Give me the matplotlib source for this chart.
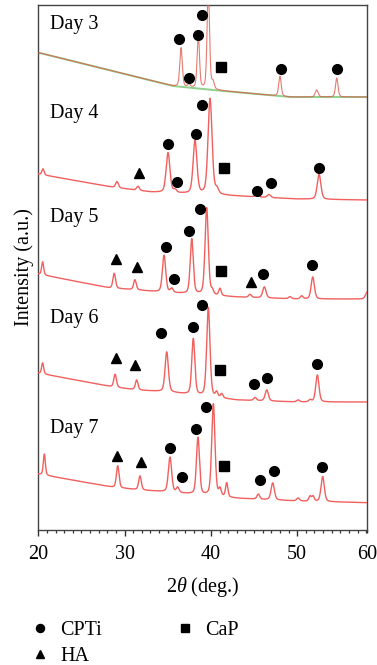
import numpy as np
import matplotlib
matplotlib.use("Agg")
import matplotlib.pyplot as plt
from matplotlib.ticker import MultipleLocator
from matplotlib.lines import Line2D

plt.rcParams['font.family'] = ['Liberation Serif', 'DejaVu Serif']
plt.rcParams['mathtext.fontset'] = 'custom'
plt.rcParams['mathtext.it'] = 'Liberation Serif:italic'
plt.rcParams['mathtext.rm'] = 'Liberation Serif'

# ---------------- XRD patterns (2theta in degrees, intensity in a.u., stacked) ----------------
days = ["Day 3", "Day 4", "Day 5", "Day 6", "Day 7"]

# background anchors per day
bg_tt = {
    "Day 3": [20.0, 20.2, 35.6, 40.2, 49.1, 58.1],
    "Day 4": [20.0, 28.5, 33.0, 38.0, 43.0, 50.0, 58.1],
    "Day 5": [20.0, 28.3, 31.5, 34.0, 43.0, 50.0, 58.1],
    "Day 6": [20.0, 28.66, 31.4, 35.0, 43.0, 50.0, 58.1],
    "Day 7": [20.0, 28.66, 31.8, 35.0, 43.0, 50.0, 58.1],
}
bg_int = {
    "Day 3": [477, 477, 444, 440, 433, 433],
    "Day 4": [356, 343, 338, 336, 334, 331, 330],
    "Day 5": [256, 242, 240, 238, 233, 231, 231],
    "Day 6": [157, 143, 140, 138, 130, 128, 128],
    "Day 7": [56, 42.7, 40, 38, 31.7, 29, 27.3],
}

# reflections: position, height above background, FWHM
pk_pos = {
    "Day 3": [36.54, 37.46, 38.54, 39.70, 40.24, 48.0, 52.26, 54.58],
    "Day 4": [20.54, 29.12, 31.55, 35.03, 35.84, 38.16, 39.90, 40.70, 45.31, 46.73, 52.53],
    "Day 5": [20.5, 28.8, 31.2, 34.57, 35.46, 37.78, 39.51, 40.16, 41.05, 44.53, 46.19,
              49.17, 50.52, 51.8, 58.1],
    "Day 6": [20.5, 28.9, 31.4, 34.88, 37.96, 39.70, 40.67, 41.25, 45.11, 46.47, 50.1,
              51.5, 52.33],
    "Day 7": [20.7, 29.2, 31.78, 35.26, 36.15, 38.5, 40.28, 41.05, 41.83, 45.49, 47.16,
              50.1, 51.48, 51.83, 52.95],
}
pk_height = {
    "Day 3": [39, 3, 54, 100, 7, 20, 7, 19],
    "Day 4": [6, 6, 4, 40, 3, 53, 96, 5, 2, 3, 25],
    "Day 5": [13, 15, 10, 37, 4, 55, 87, 4, 7, 3, 11, 2, 3, 22, 7],
    "Day 6": [11, 13, 10, 40, 56, 89, 5, 4, 3, 11, 2, 2, 27],
    "Day 7": [21, 22, 14, 35, 5, 57, 92, 7, 14, 5, 17, 3, 5, 5, 25],
}
pk_fwhm = {
    "Day 3": [0.34, 0.34, 0.32, 0.34, 0.34, 0.34, 0.40, 0.34],
    "Day 4": [0.30, 0.38, 0.38, 0.52, 0.38, 0.52, 0.55, 0.45, 0.45, 0.45, 0.50],
    "Day 5": [0.28, 0.36, 0.36, 0.45, 0.38, 0.42, 0.45, 0.32, 0.32, 0.38, 0.45,
              0.38, 0.38, 0.45, 0.45],
    "Day 6": [0.28, 0.36, 0.36, 0.45, 0.42, 0.45, 0.32, 0.32, 0.38, 0.45, 0.38,
              0.38, 0.45],
    "Day 7": [0.28, 0.36, 0.36, 0.45, 0.38, 0.42, 0.45, 0.32, 0.32, 0.38, 0.45,
              0.38, 0.32, 0.32, 0.45],
}

# phase markers: (2theta, height) per day
cpti_pts = {
    "Day 3": ([36.34, 37.46, 38.50, 38.97, 48.09, 54.65], [490.7, 452.3, 495, 515, 461, 461]),
    "Day 4": ([38.97, 38.24, 35.06, 36.10, 45.31, 46.96, 52.56], [424.7, 395.7, 385.7, 348, 339.3, 346.7, 362.3]),
    "Day 5": ([38.74, 37.46, 34.76, 35.76, 46.00, 51.75], [321, 299, 283.3, 251, 255.7, 265]),
    "Day 6": ([39.00, 37.96, 34.20, 45.00, 46.47, 52.33], [224.7, 203.3, 196.7, 145.7, 152.3, 165.7]),
    "Day 7": ([39.43, 38.24, 35.30, 36.62, 45.69, 47.31, 52.84], [123.3, 101, 82.3, 52.7, 50, 59.3, 63.3]),
}
ha_pts = {
    "Day 3": ([], []),
    "Day 4": ([31.63], [357.3]),
    "Day 5": ([28.97, 31.47, 44.65], [270.7, 263.3, 248.3]),
    "Day 6": ([28.97, 31.20], [171.7, 165]),
    "Day 7": ([29.08, 31.87], [74, 67.7]),
}
cap_pts = {
    "Day 3": ([41.17], [463.3]),
    "Day 4": ([41.52], [362.3]),
    "Day 5": ([41.17], [259]),
    "Day 6": ([41.05], [160]),
    "Day 7": ([41.52], [64]),
}
label_y = {"Day 3": 501, "Day 4": 412, "Day 5": 308.3, "Day 6": 206.7, "Day 7": 96.7}


def pattern(tt, day):
    y = np.interp(tt, bg_tt[day], bg_int[day])
    eta = 0.35
    for c, h, w in zip(pk_pos[day], pk_height[day], pk_fwhm[day]):
        d = (tt - c) / (w / 2.0)
        lor = 1.0 / (1.0 + d ** 2)
        gau = np.exp(-np.log(2.0) * d ** 2)
        y = y + h * (eta * lor + (1 - eta) * gau)
    return y


fig = plt.figure(figsize=(3.77, 6.65), dpi=100)
ax = fig.add_axes([38.3 / 377, 135 / 665, 328.4 / 377, 525 / 665])

tt = np.linspace(20.0, 58.1, 4000)
red = '#f0605e'
for day in days:
    y = pattern(tt, day)
    if day == "Day 3":
        ax.plot(tt, np.interp(tt, bg_tt[day], bg_int[day]), color='#8fd08a', lw=1.4, zorder=2)
        ax.plot(tt, y, color='#de5a4e', lw=0.8, alpha=0.8, zorder=3)
    else:
        ax.plot(tt, y, color=red, lw=1.0, zorder=3)
    ax.plot(*cpti_pts[day], 'o', color='black', ms=7.0, ls='none', zorder=5)
    ax.plot(*ha_pts[day], '^', color='black', ms=7.0, ls='none', zorder=5)
    ax.plot(*cap_pts[day], 's', color='black', ms=6.5, ls='none', zorder=5)
    ax.text(21.36, label_y[day], day, fontsize=14.5, va='baseline', ha='left')

ax.set_xlim(20, 58.05)
ax.set_ylim(0, 525)
ax.set_yticks([])
ax.set_xticks([20, 30, 40, 50, 58.05], labels=['20', '30', '40', '50', '60'])
ax.xaxis.set_minor_locator(MultipleLocator(1))
ax.tick_params(axis='x', which='major', direction='out', length=4.5, width=1.0,
               labelsize=14.5, pad=6, color='#333333')
ax.tick_params(axis='x', which='minor', direction='out', length=2.5, width=0.9,
               color='#333333')
ax.xaxis.get_major_ticks()[-1].tick1line.set_markersize(2.5)
for s in ax.spines.values():
    s.set_color('#444444')
    s.set_linewidth(1.0)

ax.set_xlabel(r'2$\it{\theta}$ (deg.)', fontsize=14.5)
ax.xaxis.set_label_coords(0.5, -0.085)
ax.set_ylabel('Intensity (a.u.)', fontsize=14.5)
ax.yaxis.set_label_coords(-0.012, 0.5)

handles = [
    Line2D([], [], marker='o', color='black', ls='none', ms=5.8),
    Line2D([], [], marker='^', color='black', ls='none', ms=6.0),
    Line2D([], [], marker='s', color='black', ls='none', ms=6.0),
]
fig.legend(handles, ['CPTi', 'HA', 'CaP'], ncol=2, loc='upper left',
           bbox_to_anchor=(30 / 377, 1 - 621 / 665), frameon=False,
           fontsize=14.5, handlelength=1.0, handletextpad=0.5,
           columnspacing=3.6, labelspacing=0.35, borderpad=0, borderaxespad=0)

fig.savefig('out.png', dpi=100)
